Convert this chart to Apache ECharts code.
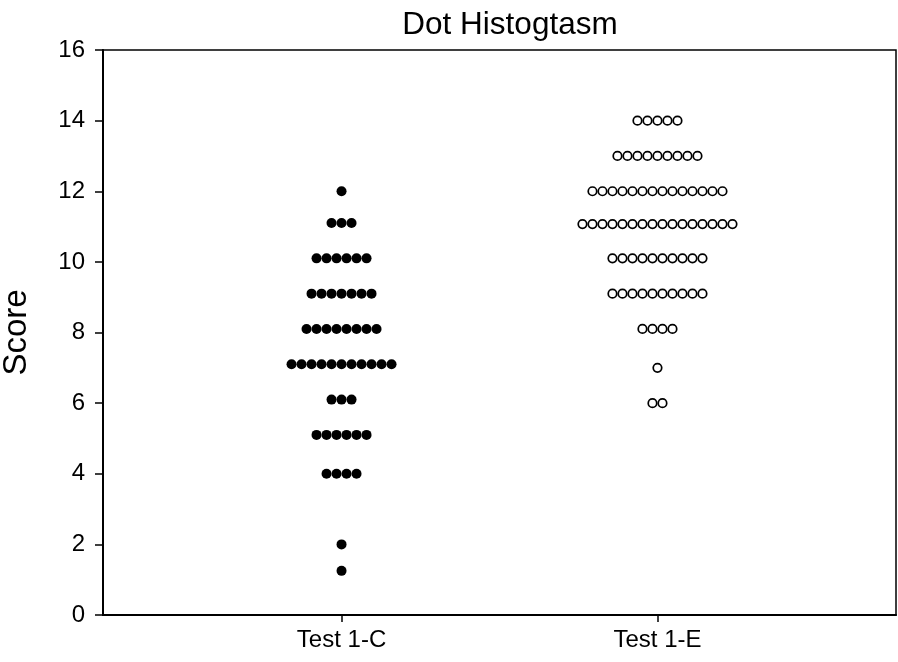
<!DOCTYPE html>
<html>
<head>
<meta charset="utf-8">
<script src="https://cdn.jsdelivr.net/npm/echarts@6/dist/echarts.min.js"></script>
<style>html,body{margin:0;padding:0;background:#fff;}#c{width:898px;height:662px;}</style>
</head>
<body>
<div id="c"></div>
<script>
const categories = ['Test 1-C', 'Test 1-E'];
const yTicks = [0, 2, 4, 6, 8, 10, 12, 14, 16];
// Test 1-C: row score levels and number of dots in each row
const scoresC = [12, 11.1, 10.1, 9.1, 8.1, 7.1, 6.1, 5.1, 4.0, 2.0, 1.25];
const countsC = [1, 3, 6, 7, 8, 11, 3, 6, 4, 1, 1];
// Test 1-E
const scoresE = [14, 13, 12, 11.07, 10.1, 9.1, 8.1, 7.0, 6.0];
const countsE = [5, 9, 14, 16, 10, 10, 4, 1, 2];

const DOT_STEP = 10; // px between dot centres within a row

function buildDots(catIndex, scores, counts) {
  const out = [];
  scores.forEach((s, r) => {
    const n = counts[r];
    for (let i = 0; i < n; i++) {
      out.push({ value: [catIndex, s], symbolOffset: [(i - (n - 1) / 2) * DOT_STEP, 0] });
    }
  });
  return out;
}

const chart = echarts.init(document.getElementById('c'), null, { renderer: 'canvas' });
const font = 'Liberation Sans, Arial, sans-serif';
chart.setOption({
  animation: false,
  backgroundColor: '#fff',
  title: {
    text: 'Dot Histogtasm',
    left: 505, top: 4, textAlign: 'center',
    textStyle: { fontFamily: font, fontSize: 31.5, fontWeight: 'normal', color: '#000' }
  },
  grid: {
    left: 103, right: 2, top: 50, bottom: 47,
    outerBoundsMode: 'none', containLabel: false,
    show: true, borderColor: '#000', borderWidth: 1.5, backgroundColor: 'transparent'
  },
  xAxis: {
    type: 'value', min: -0.755, max: 1.755,
    splitLine: { show: false },
    axisLine: { show: true, onZero: false, lineStyle: { color: '#000', width: 2 } },
    axisTick: { show: true, length: 7, lineStyle: { color: '#000', width: 1.5 }, customValues: [0, 1] },
    axisLabel: {
      customValues: [0, 1], margin: 13,
      formatter: v => categories[Math.round(v)] || '',
      fontFamily: font, fontSize: 24, color: '#000'
    }
  },
  yAxis: {
    type: 'value', min: 0, max: 16, interval: 2,
    name: 'Score', nameLocation: 'middle', nameGap: 70, nameRotate: 90,
    nameTextStyle: { fontFamily: font, fontSize: 33, color: '#000' },
    splitLine: { show: false },
    axisLine: { show: true, onZero: false, lineStyle: { color: '#000', width: 2 } },
    axisTick: { show: true, length: 8, lineStyle: { color: '#000', width: 1.5 } },
    axisLabel: {
      margin: 18, fontFamily: font, fontSize: 24, color: '#000',
      formatter: v => (yTicks.indexOf(v) >= 0 ? String(v) : '')
    }
  },
  series: [
    {
      type: 'scatter', symbol: 'circle', symbolSize: 10,
      itemStyle: { color: '#000', opacity: 1 },
      data: buildDots(0, scoresC, countsC)
    },
    {
      type: 'scatter', symbol: 'circle', symbolSize: 8.5,
      itemStyle: { color: '#fff', borderColor: '#000', borderWidth: 1.7, opacity: 1 },
      data: buildDots(1, scoresE, countsE)
    }
  ]
});
</script>
</body>
</html>
